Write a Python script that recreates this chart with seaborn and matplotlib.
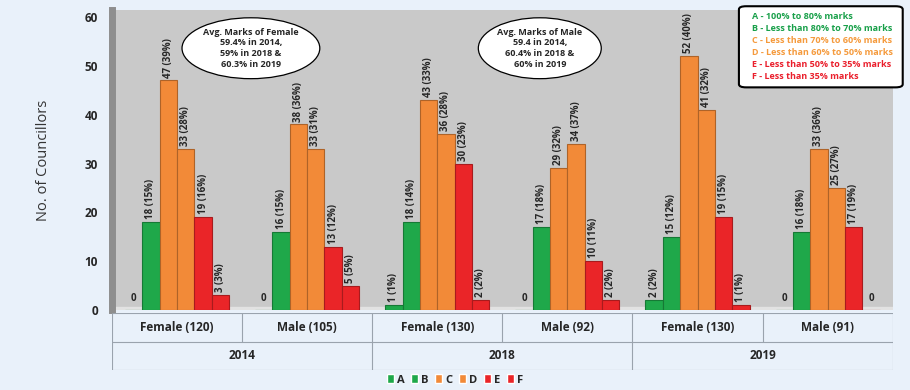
import numpy as np
import pandas as pd
import matplotlib.pyplot as plt
import seaborn as sns
from matplotlib.patches import FancyBboxPatch, Patch

# data
groups = ["Female (120)", "Male (105)", "Female (130)", "Male (92)", "Female (130)", "Male (91)"]
years = ["2014", "2018", "2019"]
grades = ["A", "B", "C", "D", "E", "F"]
count_A = [0, 0, 1, 0, 2, 0]
count_B = [18, 16, 18, 17, 15, 16]
count_C = [47, 38, 43, 29, 52, 33]
count_D = [33, 33, 36, 34, 41, 25]
count_E = [19, 13, 30, 10, 19, 17]
count_F = [3, 5, 2, 2, 1, 0]
pct_A = [0, 0, 1, 0, 2, 0]
pct_B = [15, 15, 14, 18, 12, 18]
pct_C = [39, 36, 33, 32, 40, 36]
pct_D = [28, 31, 28, 37, 32, 27]
pct_E = [16, 12, 23, 11, 15, 19]
pct_F = [3, 5, 2, 2, 1, 0]
legend_lines = ["A - 100% to 80% marks", "B - Less than 80% to 70% marks",
                "C - Less than 70% to 60% marks", "D - Less than 60% to 50% marks",
                "E - Less than 50% to 35% marks", "F - Less than 35% marks"]
female_note = "Avg. Marks of Female\n59.4% in 2014,\n59% in 2018 &\n60.3% in 2019"
male_note = "Avg. Marks of Male\n59.4 in 2014,\n60.4% in 2018 &\n60% in 2019"

counts = [count_A, count_B, count_C, count_D, count_E, count_F]
pcts = [pct_A, pct_B, pct_C, pct_D, pct_E, pct_F]
grp_ids = [f"g{i}" for i in range(len(groups))]
rows = []
for g, cnt, pc in zip(grades, counts, pcts):
    for gid, c, p in zip(grp_ids, cnt, pc):
        rows.append({"group": gid, "grade": g, "count": c, "pct": p})
df = pd.DataFrame(rows)

green, orange, red = "#1fa84a", "#f28a38", "#ea2528"
palette = {"A": green, "B": green, "C": orange, "D": orange, "E": red, "F": red}
text_cols = ["#19a04a", "#19a04a", "#f59a3c", "#f59a3c", "#ea1f2c", "#ea1f2c"]

sns.set_style("white")
plt.rcParams["font.family"] = ["Open Sans", "DejaVu Sans"]

fig = plt.figure(figsize=(9.1, 3.9), dpi=100)
fig.patch.set_facecolor("#e9f1fa")
ax = fig.add_axes([0.123, 0.205, 0.858, 0.769])
ax.set_facecolor("#c9c9c9")

sns.barplot(data=df, x="group", y="count", hue="grade", order=grp_ids, hue_order=grades,
            palette=palette, saturation=1, ax=ax, linewidth=0.8, legend=False, zorder=3)
for cont in ax.containers:
    for bar in cont:
        bar.set_edgecolor(tuple(np.array(bar.get_facecolor()[:3]) * 0.72))

ax.axhspan(0, 0.7, color="#e2e2e2", zorder=1)
ax.set_xlim(-0.5, 5.5)
ax.set_ylim(0, 61.4)
ax.set_yticks(range(0, 61, 10))
ax.tick_params(axis="y", labelsize=8.5, length=0, pad=10)
for t in ax.get_yticklabels():
    t.set_fontweight("bold")
ax.set_xticks([])
ax.set_xlabel("")
ax.set_ylabel("No. of Councillors", fontsize=10.5, color="#333333", labelpad=24)
for s in ["top", "right", "bottom"]:
    ax.spines[s].set_visible(False)
ax.spines["left"].set_color("#8e8e8e")
ax.spines["left"].set_linewidth(5)

# value labels
for gi, cont in enumerate(ax.containers):
    for j, bar in enumerate(cont):
        v = counts[gi][j]
        x = bar.get_x() + bar.get_width() / 2
        if v == 0:
            ax.text(x, 1.2, "0", ha="center", va="bottom", fontsize=7, fontweight="bold", zorder=4)
        else:
            ax.text(x, v + 0.6, f"{v} ({pcts[gi][j]}%)", rotation=90, ha="center", va="bottom",
                    fontsize=7, fontweight="bold", zorder=4)

# note ellipses
for xpos, note in [(0.178, female_note), (0.548, male_note)]:
    ax.text(xpos, 0.873, note, transform=ax.transAxes, ha="center", va="center", fontsize=6.5,
            fontweight="bold", linespacing=1.25, zorder=5,
            bbox=dict(boxstyle="ellipse,pad=0.1", fc="white", ec="black", lw=0.9))

# grade description box
fig.patches.append(FancyBboxPatch((0.812, 0.776), 0.180, 0.208, boxstyle="round,pad=0,rounding_size=0.008",
                                  transform=fig.transFigure, fc="white", ec="black", lw=1.5, zorder=6))
for k, (line, col) in enumerate(zip(legend_lines, text_cols)):
    fig.text(0.826, 0.958 - k * 0.031, line, color=col, fontsize=6.5, fontweight="bold",
             va="center", ha="left", zorder=7)

# category table under the axis
tax = fig.add_axes([0.123, 0.051, 0.858, 0.146])
tax.set_xlim(-0.5, 5.5)
tax.set_ylim(0, 2)
tax.axis("off")
tax.hlines([0, 1, 2], -0.5, 5.5, color="#9aa3ad", lw=0.8)
tax.vlines([-0.5, 5.5], 0, 2, color="#9aa3ad", lw=0.8)
tax.vlines([0.5, 2.5, 4.5], 1, 2, color="#9aa3ad", lw=0.8)
tax.vlines([1.5, 3.5], 0, 2, color="#9aa3ad", lw=0.8)
for i, g in enumerate(groups):
    tax.text(i, 1.5, g, ha="center", va="center", fontsize=8.5, fontweight="bold")
for i, y in enumerate(years):
    tax.text(2 * i + 0.5, 0.5, y, ha="center", va="center", fontsize=8.5, fontweight="bold")

handles = [Patch(facecolor=palette[g]) for g in grades]
fig.legend(handles, grades, loc="center", bbox_to_anchor=(0.5, 0.026), ncol=6, frameon=False,
           handlelength=0.6, handleheight=0.9, handletextpad=0.3, columnspacing=0.6,
           prop={"weight": "bold", "size": 8})

fig.savefig("out.png", dpi=100, facecolor=fig.get_facecolor())
